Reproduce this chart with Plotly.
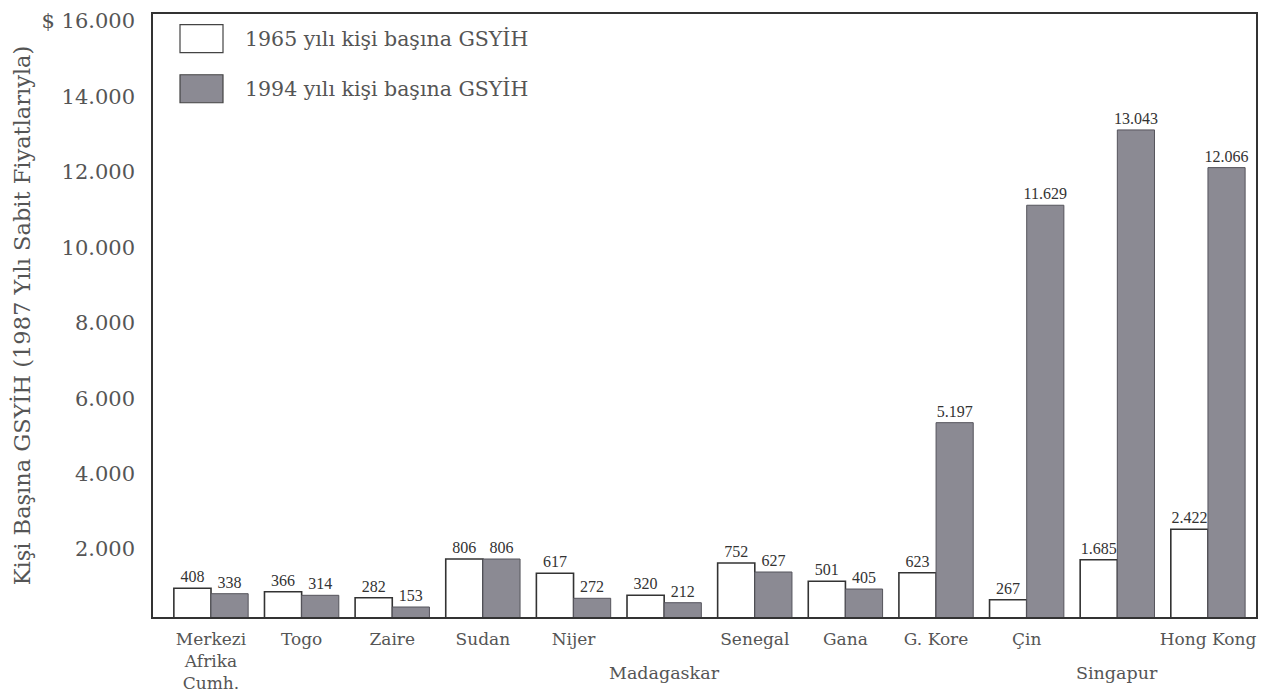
import plotly.graph_objects as go

# countries along the x axis
countries = ['Merkezi Afrika Cumh.', 'Togo', 'Zaire', 'Sudan', 'Nijer', 'Madagaskar',
             'Senegal', 'Gana', 'G. Kore', 'Çin', 'Singapur', 'Hong Kong']

# printed values above the bars
gdp_1965_label = [408, 366, 282, 806, 617, 320, 752, 501, 623, 267, 1685, 2422]
gdp_1994_label = [338, 314, 153, 806, 272, 212, 627, 405, 5197, 11629, 13043, 12066]

# bar heights as drawn against the y axis of the original (not to scale with the labels)
gdp_1965_bar = [958, 868, 709, 1735, 1356, 772, 1629, 1143, 1371, 655, 1716, 2522]
gdp_1994_bar = [815, 772, 462, 1735, 693, 576, 1390, 939, 5350, 11115, 13112, 12113]

tick_vals = [2000, 4000, 6000, 8000, 10000, 12000, 14000, 16000]
tick_text = ['2.000', '4.000', '6.000', '8.000', '10.000', '12.000', '14.000', '$ 16.000']

legend_names = ['1965 yılı kişi başına GSYİH', '1994 yılı kişi başına GSYİH']

x_ticktext = ['Merkezi<br>Afrika<br>Cumh.', 'Togo', 'Zaire', 'Sudan', 'Nijer', '',
              'Senegal', 'Gana', 'G. Kore', 'Çin', '', 'Hong Kong']


def fmt(v):
    return f'{v:,}'.replace(',', '.')


serif = 'DejaVu Serif'
text_col = '#555555'
line_col = '#333333'
gray = '#8b8a93'

xs = list(range(len(countries)))

fig = go.Figure()
fig.add_trace(go.Bar(
    x=xs, y=gdp_1965_bar, name=legend_names[0],
    marker=dict(color='white', line=dict(color=line_col, width=1.6)),
    text=[fmt(v) for v in gdp_1965_label], textposition='outside',
    textfont=dict(family='Liberation Serif', size=16, color='#333333'),
    constraintext='none', cliponaxis=False,
))
fig.add_trace(go.Bar(
    x=xs, y=gdp_1994_bar, name=legend_names[1],
    marker=dict(color=gray, line=dict(color='#55545c', width=1)),
    text=[fmt(v) for v in gdp_1994_label], textposition='outside',
    textfont=dict(family='Liberation Serif', size=16, color='#333333'),
    constraintext='none', cliponaxis=False,
))

# page body adds ~7px offset, margins compensate
fig.update_layout(
    width=1288, height=697,
    margin=dict(l=145, r=40, t=6, b=88),
    plot_bgcolor='white', paper_bgcolor='white',
    barmode='group', bargap=0.18, bargroupgap=0,
    showlegend=False,
    font=dict(family=serif, color=text_col),
)

fig.update_xaxes(
    range=[-0.64, 11.53], tickvals=xs, ticktext=x_ticktext,
    tickfont=dict(family=serif, size=17, color=text_col),
    showline=True, linecolor=line_col, linewidth=1.5, mirror=True,
    showgrid=False, zeroline=False, ticks='', ticklabelstandoff=6,
    automargin=False,
)
fig.update_yaxes(
    range=[197, 16186], tickvals=tick_vals, ticktext=tick_text,
    tickfont=dict(family=serif, size=21, color=text_col),
    showline=True, linecolor=line_col, linewidth=1.5, mirror=True,
    showgrid=False, zeroline=False, ticks='', ticklabelstandoff=12,
    automargin=False,
    title=dict(text='Kişi Başına GSYİH (1987 Yılı Sabit Fiyatlarıyla)',
               font=dict(family=serif, size=22.5, color=text_col), standoff=5),
)

# second-row category labels
for i in (5, 10):
    fig.add_annotation(x=i, xref='x', y=-0.093, yref='paper', text=countries[i],
                       showarrow=False, yanchor='middle',
                       font=dict(family=serif, size=17.5, color=text_col))

# hand-drawn legend inside the frame
legend_rows = [(0.959, 'white'), (0.876, gray)]
for (yc, col), name in zip(legend_rows, legend_names):
    fig.add_shape(type='rect', xref='paper', yref='paper',
                  x0=27 / 1103, x1=70 / 1103, y0=yc - 14 / 603, y1=yc + 14 / 603,
                  fillcolor=col, line=dict(color='#444444', width=1.2))
    fig.add_annotation(x=90 / 1103, xref='paper', y=yc, yref='paper', text=name,
                       showarrow=False, xanchor='left', yanchor='middle',
                       font=dict(family=serif, size=20.5, color=text_col))

fig.write_html('out.html')
